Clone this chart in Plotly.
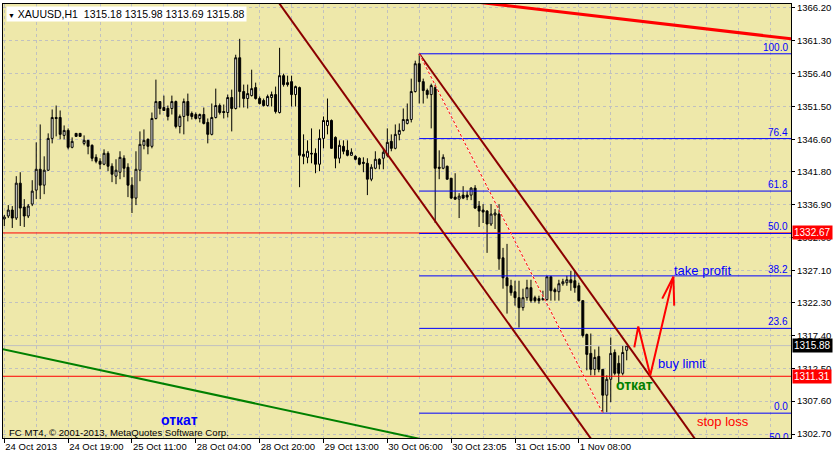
import plotly.graph_objects as go

# ---------------- data ----------------
opens = [1334.75, 1335.19, 1336.08, 1334.89, 1340.09, 1336.53, 1335.19, 1336.97, 1339.05, 1342.16,
         1339.79, 1342.02, 1346.76, 1349.88, 1349.88, 1347.21, 1347.95, 1345.43, 1347.51, 1347.51,
         1346.02, 1346.47, 1345.73, 1343.94, 1343.35, 1342.91, 1344.54, 1342.61, 1341.13, 1341.72,
         1343.80, 1342.46, 1339.79, 1337.86, 1342.02, 1345.73, 1346.62, 1345.58, 1349.73, 1352.25,
         1351.36, 1351.22, 1351.22, 1352.25, 1348.54, 1350.03, 1352.25, 1350.47, 1350.32, 1349.73,
         1350.32, 1349.14, 1347.36, 1349.88, 1351.66, 1350.77, 1350.62, 1352.85, 1351.22, 1358.78,
         1353.74, 1352.70, 1353.14, 1354.33, 1352.70, 1352.40, 1351.66, 1352.85, 1353.29, 1350.62,
         1356.11, 1355.07, 1355.22, 1353.29, 1354.33, 1344.39, 1343.94, 1344.54, 1344.54, 1342.91,
         1346.76, 1348.69, 1349.43, 1346.91, 1343.80, 1345.58, 1344.98, 1344.24, 1344.09, 1343.80,
         1343.20, 1343.05, 1340.68, 1342.31, 1343.65, 1343.80, 1344.24, 1346.32, 1345.28, 1347.36,
         1347.95, 1348.99, 1349.58, 1353.74, 1357.89, 1355.22, 1353.89, 1353.29, 1354.33, 1342.46,
         1342.31, 1342.61, 1340.83, 1338.01, 1337.71, 1338.31, 1338.31, 1338.31, 1339.35, 1336.67,
         1336.08, 1335.93, 1334.00, 1335.34, 1335.49, 1328.96, 1325.99, 1324.80, 1323.91, 1323.02,
         1321.54, 1323.02, 1324.51, 1323.02, 1322.88, 1322.73, 1322.73, 1326.14, 1324.21, 1323.91,
         1325.10, 1325.25, 1325.69, 1325.55, 1324.80, 1322.58, 1317.53, 1314.72, 1312.34, 1314.27,
         1312.34, 1308.49, 1310.86, 1314.86, 1313.23, 1311.75, 1315.18]
highs = [1335.34, 1336.82, 1336.67, 1341.13, 1341.72, 1337.71, 1336.97, 1340.53, 1346.17, 1348.84,
         1344.09, 1347.51, 1351.07, 1351.66, 1350.92, 1348.69, 1348.25, 1346.91, 1347.51, 1347.51,
         1347.21, 1346.47, 1345.87, 1344.39, 1343.80, 1345.13, 1344.84, 1343.05, 1343.65, 1344.84,
         1344.24, 1343.05, 1340.98, 1344.84, 1347.80, 1348.10, 1346.76, 1350.62, 1355.52, 1352.25,
         1353.14, 1351.66, 1353.14, 1352.40, 1350.32, 1352.70, 1353.44, 1350.77, 1350.62, 1350.47,
         1351.36, 1349.73, 1351.96, 1354.18, 1351.96, 1351.81, 1353.29, 1354.03, 1359.23, 1361.60,
         1354.78, 1354.78, 1357.00, 1355.07, 1353.00, 1352.70, 1353.29, 1353.74, 1354.48, 1360.26,
         1356.41, 1356.11, 1356.11, 1354.63, 1354.48, 1347.36, 1346.47, 1348.25, 1345.28, 1348.10,
         1350.03, 1352.70, 1349.58, 1347.06, 1346.47, 1346.47, 1346.47, 1345.28, 1344.24, 1343.94,
         1343.94, 1343.80, 1342.91, 1344.84, 1343.80, 1345.28, 1348.25, 1347.36, 1348.84, 1348.99,
         1351.22, 1351.96, 1355.67, 1358.34, 1359.37, 1355.67, 1354.18, 1354.92, 1354.92, 1344.98,
         1344.39, 1342.70, 1340.83, 1341.57, 1338.60, 1339.64, 1338.90, 1339.49, 1339.79, 1337.42,
         1336.97, 1336.08, 1336.97, 1336.23, 1336.97, 1330.44, 1331.04, 1325.69, 1325.55, 1325.55,
         1324.36, 1325.69, 1325.69, 1323.32, 1323.32, 1324.06, 1326.29, 1326.29, 1324.51, 1325.69,
         1325.84, 1326.29, 1327.03, 1327.03, 1325.25, 1322.60, 1317.68, 1317.68, 1315.31, 1315.75,
         1312.34, 1311.45, 1317.09, 1315.31, 1314.42, 1315.90, 1315.98]
lows = [1333.71, 1334.89, 1333.41, 1334.60, 1333.71, 1333.56, 1334.89, 1336.67, 1337.71, 1337.71,
        1338.45, 1341.90, 1346.02, 1347.06, 1346.62, 1346.62, 1345.13, 1345.28, 1347.06, 1347.06,
        1345.73, 1344.39, 1343.35, 1343.05, 1342.16, 1342.76, 1341.87, 1340.24, 1339.94, 1340.68,
        1340.98, 1338.01, 1335.64, 1336.82, 1340.38, 1345.13, 1344.39, 1345.28, 1349.58, 1350.32,
        1350.85, 1349.43, 1350.32, 1348.25, 1347.51, 1347.36, 1349.29, 1349.58, 1349.58, 1349.14,
        1348.84, 1346.02, 1347.21, 1349.73, 1350.32, 1349.73, 1349.88, 1347.80, 1351.07, 1351.36,
        1351.36, 1351.22, 1353.00, 1352.55, 1351.81, 1351.51, 1351.51, 1351.51, 1350.47, 1350.47,
        1354.48, 1354.48, 1351.51, 1351.51, 1339.49, 1342.91, 1343.05, 1343.05, 1341.57, 1341.87,
        1345.28, 1347.36, 1345.20, 1342.31, 1343.05, 1344.39, 1344.09, 1344.20, 1343.50, 1342.76,
        1341.72, 1338.31, 1340.38, 1342.16, 1342.16, 1342.16, 1343.94, 1344.84, 1345.13, 1346.47,
        1347.80, 1348.84, 1349.14, 1353.60, 1351.96, 1351.96, 1352.70, 1348.25, 1334.15, 1340.68,
        1342.16, 1340.60, 1337.71, 1337.60, 1334.89, 1337.71, 1337.56, 1337.56, 1336.23, 1333.56,
        1334.15, 1329.70, 1333.71, 1333.26, 1327.18, 1324.36, 1320.65, 1323.32, 1321.84, 1318.57,
        1321.09, 1322.58, 1322.28, 1322.28, 1322.13, 1322.58, 1322.58, 1322.58, 1322.58, 1322.58,
        1324.80, 1324.80, 1324.06, 1323.76, 1322.43, 1317.09, 1312.19, 1311.45, 1311.45, 1311.90,
        1305.81, 1305.96, 1307.45, 1311.45, 1310.27, 1311.45, 1313.69]
closes = [1335.04, 1336.08, 1334.89, 1340.09, 1336.38, 1335.19, 1336.67, 1338.90, 1342.16, 1339.79,
          1342.02, 1346.76, 1349.88, 1349.73, 1347.36, 1347.95, 1345.43, 1346.32, 1347.06, 1347.06,
          1346.47, 1345.58, 1343.80, 1343.35, 1342.91, 1344.54, 1342.61, 1341.42, 1342.02, 1343.94,
          1342.31, 1339.79, 1337.86, 1342.16, 1345.87, 1346.47, 1345.58, 1349.73, 1352.25, 1351.22,
          1350.92, 1350.03, 1352.25, 1348.54, 1350.03, 1352.25, 1350.18, 1350.03, 1349.73, 1350.32,
          1348.99, 1347.36, 1349.88, 1351.66, 1350.62, 1350.62, 1352.85, 1351.22, 1358.78, 1353.74,
          1352.70, 1353.44, 1354.18, 1352.70, 1351.96, 1351.66, 1353.00, 1353.29, 1350.77, 1356.11,
          1354.78, 1354.78, 1353.29, 1354.48, 1344.24, 1344.09, 1344.84, 1344.45, 1342.91, 1346.76,
          1349.43, 1349.43, 1345.28, 1343.80, 1345.73, 1344.84, 1344.24, 1344.69, 1343.65, 1342.91,
          1343.05, 1340.68, 1342.46, 1343.65, 1342.91, 1344.69, 1346.17, 1345.28, 1347.36, 1347.95,
          1349.58, 1349.58, 1353.74, 1357.89, 1355.22, 1353.89, 1353.29, 1354.63, 1342.31, 1342.31,
          1343.94, 1340.68, 1337.86, 1337.71, 1338.16, 1337.86, 1338.01, 1339.35, 1336.38, 1335.93,
          1335.78, 1334.00, 1335.49, 1335.64, 1328.81, 1325.99, 1324.80, 1323.76, 1323.02, 1321.54,
          1323.02, 1324.51, 1322.58, 1322.58, 1322.58, 1322.88, 1326.14, 1324.06, 1323.91, 1325.10,
          1325.40, 1325.69, 1325.25, 1324.51, 1322.58, 1317.39, 1314.57, 1312.34, 1314.12, 1312.34,
          1308.49, 1310.86, 1314.72, 1311.75, 1311.75, 1314.86, 1315.88]
bar_index = list(range(len(closes)))

x_label_bars = [0, 16, 32, 48, 64, 80, 96, 112, 128, 144]
x_labels = ["24 Oct 2013", "24 Oct 19:00", "25 Oct 11:00", "28 Oct 04:00", "28 Oct 20:00",
            "29 Oct 13:00", "30 Oct 06:00", "30 Oct 23:05", "31 Oct 15:00", "1 Nov 08:00"]
y_ticks = [1366.20, 1361.30, 1356.40, 1351.50, 1346.60, 1341.80, 1336.90, 1332.00,
           1327.10, 1322.30, 1317.40, 1312.50, 1307.60, 1302.70]

# Fibonacci retracement object
fib_start_bar = 104
fib_high = 1359.37
fib_low = 1305.81
fib_levels = [0.0, 23.6, 38.2, 50.0, 61.8, 76.4, 100.0]

# horizontal lines
red_hlines = [1332.67, 1311.31]
bid_price = 1315.88
extra_fib_label_price = 1301.3

# drawn trend objects (bar index, price)
chan_a_x, chan_a_y = [60, 160], [1374.29, 1291.24]
chan_b_x, chan_b_y = [104, 185], [1359.37, 1292.10]
fib_trend_x, fib_trend_y = [104, 150], [1359.37, 1305.81]
green_x, green_y = [-1, 110], [1315.43, 1301.23]
top_red_x, top_red_y = [100, 200], [1368.35, 1361.41]
zigzag_x = [157.9, 158.9, 161.9, 167.7, None, 164.9, 167.7, 167.9]
zigzag_y = [1315.61, 1318.72, 1311.45, 1326.14, None, 1322.88, 1326.14, 1321.84]

# text labels (bar index, price)
notes = [
    ("take profit", 167.7, 1327.03, "#0000ff"),
    ("buy limit", 163.7, 1313.23, "#0000ff"),
    ("stop loss", 173.4, 1304.62, "#ff0000"),
]
otkat_labels = [("откат", 157.9, 1310.0, "#008000"), ("откат", 43.9, 1304.75, "#0000ff")]

title_text = "XAUUSD,H1\u00a0\u00a01315.18\u00a01315.98\u00a01313.69\u00a01315.88"

# ---------------- figure ----------------
X0, X1 = -0.325, 197.175
Y0, Y1 = 1302.11, 1366.79
FONT = "Liberation Sans, Arial, sans-serif"
GRID = "#c0c0c0"

fig = go.Figure()

line_kw = dict(mode="lines", hoverinfo="skip", showlegend=False)

# horizontal lines behind candles
fig.add_trace(go.Scatter(x=[X0, X1], y=[bid_price, bid_price], line=dict(color="#c0c0c0", width=1), **line_kw))
for p in red_hlines:
    fig.add_trace(go.Scatter(x=[X0, X1], y=[p, p], line=dict(color="#ff0000", width=1), **line_kw))
for lvl in fib_levels:
    p = fib_low + (fib_high - fib_low) * lvl / 100.0
    fig.add_trace(go.Scatter(x=[fib_start_bar, X1], y=[p, p], line=dict(color="#0000ff", width=1), **line_kw))

fig.add_trace(go.Candlestick(
    x=bar_index, open=opens, high=highs, low=lows, close=closes,
    increasing=dict(line=dict(color="black", width=1), fillcolor="white"),
    decreasing=dict(line=dict(color="black", width=1), fillcolor="black"),
    whiskerwidth=0, showlegend=False, hoverinfo="skip"))

# diagonal objects
fig.add_trace(go.Scatter(x=green_x, y=green_y, line=dict(color="#008000", width=2), **line_kw))
fig.add_trace(go.Scatter(x=chan_a_x, y=chan_a_y, line=dict(color="#8b0000", width=2), **line_kw))
fig.add_trace(go.Scatter(x=chan_b_x, y=chan_b_y, line=dict(color="#8b0000", width=2), **line_kw))
fig.add_trace(go.Scatter(x=fib_trend_x, y=fib_trend_y, line=dict(color="white", width=1), **line_kw))
fig.add_trace(go.Scatter(x=fib_trend_x, y=fib_trend_y, line=dict(color="#ff0000", width=1, dash="3px,2px"), **line_kw))
fig.add_trace(go.Scatter(x=top_red_x, y=top_red_y, line=dict(color="#ff0000", width=3), **line_kw))
fig.add_trace(go.Scatter(x=zigzag_x, y=zigzag_y, line=dict(color="#ff0000", width=2), **line_kw))

# clipped extra fib label at bottom edge
fig.add_trace(go.Scatter(x=[X1 - 0.6], y=[extra_fib_label_price], mode="text", text=["50.0"],
                         textposition="top left", cliponaxis=True,
                         textfont=dict(family=FONT, size=10, color="#0000ff"),
                         hoverinfo="skip", showlegend=False))

annotations = []
for lvl in fib_levels:
    p = fib_low + (fib_high - fib_low) * lvl / 100.0
    annotations.append(dict(x=X1, y=p, xref="x", yref="y", text=f"{lvl:.1f}", showarrow=False,
                            xanchor="right", yanchor="bottom", xshift=-2, borderpad=0,
                            font=dict(family=FONT, size=10, color="#0000ff")))
for txt, bx, py, col in notes:
    annotations.append(dict(x=bx, y=py, xref="x", yref="y", text=txt, showarrow=False,
                            xanchor="left", yanchor="middle", borderpad=0,
                            font=dict(family=FONT, size=13, color=col)))
for txt, bx, py, col in otkat_labels:
    annotations.append(dict(x=bx, y=py, xref="x", yref="y", text=f"<b>{txt}</b>", showarrow=False,
                            xanchor="center", yanchor="middle", borderpad=0,
                            font=dict(family=FONT, size=14, color=col)))
# price labels on the right axis
for p, bg in [(red_hlines[0], "#ff0000"), (red_hlines[1], "#ff0000"), (bid_price, "#000000")]:
    annotations.append(dict(x=1, y=p, xref="paper", yref="y", text=f"{p:.2f}", showarrow=False,
                            xanchor="left", yanchor="middle", xshift=1, bgcolor=bg, borderpad=1,
                            font=dict(family=FONT, size=10, color="white")))
# title and copyright
annotations.append(dict(x=0.0038, y=0.9954, xref="paper", yref="paper",
                        text="<span style='font-size:7px'>▼</span>\u00a0" + title_text,
                        showarrow=False, xanchor="left", yanchor="top", bgcolor="white", borderpad=1,
                        font=dict(family=FONT, size=10.5, color="black")))
annotations.append(dict(x=0.006, y=0.0138, xref="paper", yref="paper",
                        text="FC MT4, © 2001-2013, MetaQuotes Software Corp.",
                        showarrow=False, xanchor="left", yanchor="middle", borderpad=0,
                        font=dict(family=FONT, size=9.6, color="black")))

fig.update_layout(
    width=833, height=457,
    margin=dict(l=2, r=41, t=2, b=19),
    paper_bgcolor="white", plot_bgcolor="#eee8aa",
    showlegend=False, annotations=annotations,
    font=dict(family=FONT, size=10, color="black"),
    xaxis=dict(range=[X0, X1], rangeslider=dict(visible=False),
               tickmode="array", tickvals=x_label_bars, ticktext=x_labels,
               ticks="outside", ticklen=4, tickcolor="black",
               ticklabelposition="outside right",
               tickfont=dict(family=FONT, size=9.5, color="black"),
               showgrid=True, gridcolor=GRID, griddash="3px,3px", gridwidth=1,
               minor=dict(tickmode="linear", tick0=0, dtick=8, showgrid=True,
                          gridcolor=GRID, griddash="3px,3px", gridwidth=1, ticks=""),
               showline=True, linecolor="black", linewidth=1, mirror=True,
               zeroline=False, fixedrange=True),
    yaxis=dict(range=[Y0, Y1], side="right",
               tickmode="array", tickvals=y_ticks, ticktext=[f"{v:.2f}" for v in y_ticks],
               ticks="outside", ticklen=3, tickcolor="black",
               tickfont=dict(family=FONT, size=9.5, color="black"),
               showgrid=True, gridcolor=GRID, griddash="3px,3px", gridwidth=1,
               showline=True, linecolor="black", linewidth=1, mirror=True,
               zeroline=False, fixedrange=True),
)

fig.write_html("out.html", config={"displayModeBar": False},
               post_script="document.body.style.margin='0';document.body.style.overflow='hidden';")
